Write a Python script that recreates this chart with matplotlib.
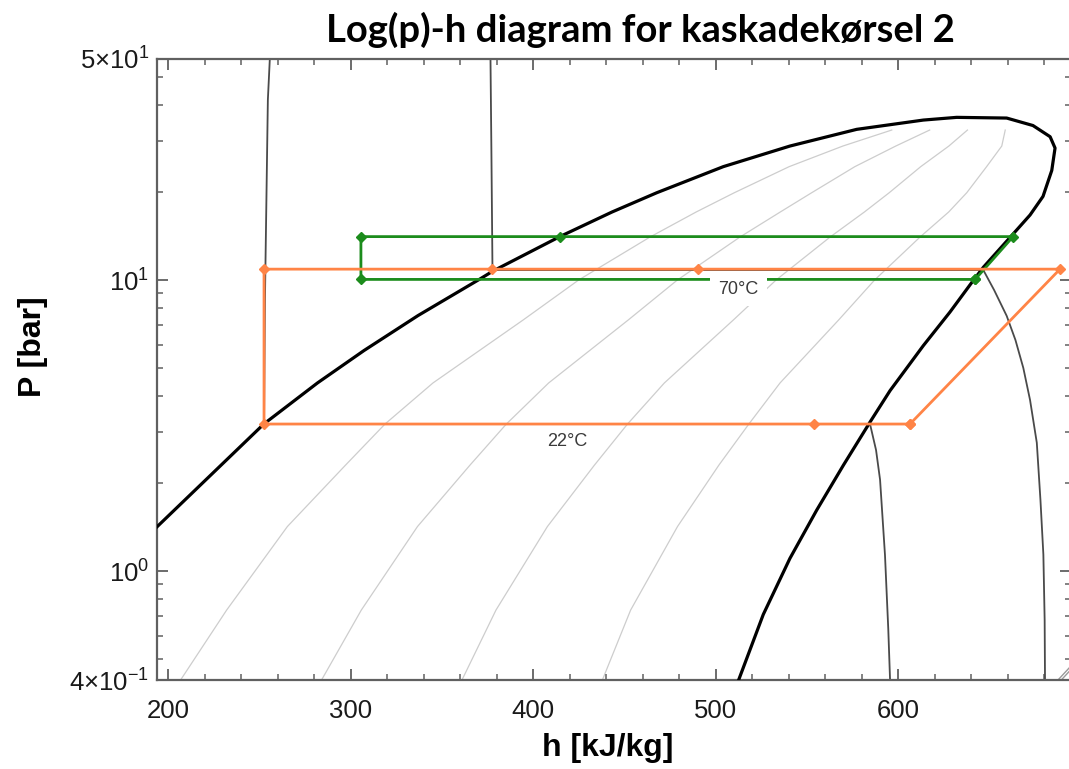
import matplotlib
matplotlib.use("Agg")
import matplotlib.pyplot as plt
from matplotlib.ticker import FixedLocator, FixedFormatter, NullFormatter

# --- data (h in kJ/kg, p in bar) ----------------------------------------
# saturation dome: liquid line -> critical region -> vapour line
dome_h = [190.0, 194.0, 252.4, 281.8, 307.3, 336.9, 370.8, 378.0, 414.7, 443.2,
          467.7, 504.2, 540.7, 577.3, 613.8, 632.1, 659.5, 673.9, 683.3, 686.0,
          684.2, 679.4, 672.3, 661.3, 646.7, 641.2, 628.4, 613.8, 595.6, 584.6,
          570.0, 555.4, 540.7, 526.1, 512.4, 510.0]
dome_p = [1.344, 1.422, 3.201, 4.43, 5.725, 7.55, 10.08, 10.74, 14.11, 17.13,
          19.95, 24.53, 28.87, 32.95, 35.46, 36.23, 36.03, 33.96, 31.08, 28.42,
          23.80, 19.38, 16.73, 14.00, 11.06, 9.97, 7.76, 5.95, 4.17, 3.25,
          2.31, 1.62, 1.105, 0.709, 0.419, 0.39]

# constant quality lines (thin grey), shared pressure levels
q_p = [0.4188, 0.734, 1.422, 2.313, 3.20, 4.43, 7.29, 10.0, 14.05, 17.13,
       19.95, 24.53, 28.87, 32.77]
q02_h = [206.4, 232.0, 265.3, 297.2, 318.8, 345.1, 394.5, 424.9, 464.0, 489.3,
         510.2, 540.3, 569.7, 596.5]
q04_h = [283.7, 305.8, 336.6, 365.4, 385.3, 408.5, 452.1, 479.0, 513.3, 535.4,
         552.6, 576.3, 598.7, 617.3]
q06_h = [360.7, 379.6, 407.8, 433.6, 451.7, 471.9, 509.7, 533.1, 562.7, 581.5,
         595.1, 612.4, 627.8, 638.0]
q08_h = [437.7, 453.4, 479.1, 501.8, 518.2, 535.3, 567.4, 587.1, 612.0, 627.7,
         637.6, 648.5, 656.8, 658.7]

# isotherms
t22_h = [255.7, 254.6, 253.8, 253.0, 252.5, 584.6, 587.9, 590.1, 592.8, 594.6,
         595.6, 595.9]
t22_p = [58.0, 41.6, 18.8, 8.54, 3.2, 3.2, 2.605, 2.06, 1.135, 0.632, 0.419, 0.36]
t70_h = [376.6, 377.1, 377.7, 646.7, 652.6, 659.5, 664.3, 668.6, 672.3, 676.0,
         678.0, 679.6, 680.3, 680.5, 680.7]
t70_p = [58.0, 27.97, 10.82, 10.82, 9.24, 7.53, 6.22, 4.99, 3.87, 2.76,
         1.754, 1.139, 0.679, 0.419, 0.36]
edge_h = [687.6, 694.5]
edge_p = [0.4221, 0.47]

# cycle 1 (orange)
cyc1_h = [606.5, 688.7, 490.3, 377.4, 252.5, 252.5, 553.9, 606.5]
cyc1_p = [3.2, 10.9, 10.9, 10.9, 10.9, 3.2, 3.2, 3.2]
# cycle 2 (green)
cyc2_h = [642.2, 663.0, 414.7, 305.6, 305.6, 642.2]
cyc2_p = [10.05, 14.1, 14.1, 14.1, 10.05, 10.05]

xticks = [200, 300, 400, 500, 600]
ylim = (0.4221, 57.5)
yticks = [ylim[0], 1, 10, ylim[1]]
ytick_labels = [r"$4{\times}10^{-1}$", r"$10^{0}$", r"$10^{1}$", r"$5{\times}10^{1}$"]

# ------------------------------------------------------------------------
plt.rcParams["font.family"] = ["Liberation Sans", "DejaVu Sans"]
plt.rcParams["mathtext.fontset"] = "custom"
plt.rcParams["mathtext.rm"] = "Liberation Sans"
plt.rcParams["mathtext.it"] = "Liberation Sans"

ORANGE = "#ff8446"
GREEN = "#1c8c1c"

fig = plt.figure(figsize=(10.69, 7.69), dpi=100)
ax = fig.add_axes([0.1473, 0.1157, 0.8545, 0.8076])
ax.set_yscale("log")
ax.set_xlim(194.1, 694.7)
ax.set_ylim(*ylim)

for qh in (q02_h, q04_h, q06_h, q08_h):
    ax.plot(qh, q_p, color="#cdcdcd", lw=0.9, zorder=1)

ax.plot(t22_h, t22_p, color="#4a4a4a", lw=1.3, zorder=2)
ax.plot(t70_h, t70_p, color="#4a4a4a", lw=1.3, zorder=2)
ax.plot(edge_h, edge_p, color="#9a9a9a", lw=1.0, zorder=2)
ax.plot([h + 1.8 for h in edge_h], edge_p, color="#9a9a9a", lw=1.0, zorder=2)

ax.plot(dome_h, dome_p, color="black", lw=2.3, zorder=3)

ax.plot(cyc2_h, cyc2_p, color=GREEN, lw=2.0, marker="D", ms=5.5, zorder=4)

ax.text(512.4, 9.26, "70\u00b0C", fontsize=13, color="#3a3a3a", ha="center",
        va="center", zorder=5,
        bbox=dict(boxstyle="square,pad=0.45", fc="white", ec="none"))
ax.text(418.7, 2.789, "22\u00b0C", fontsize=13, color="#3a3a3a", ha="center",
        va="center", zorder=5,
        bbox=dict(boxstyle="square,pad=0.2", fc="white", ec="none"))

ax.plot(cyc1_h, cyc1_p, color=ORANGE, lw=2.0, marker="D", ms=5.5, zorder=6)

# axes styling
for s in ax.spines.values():
    s.set_color("#606060")
    s.set_linewidth(1.6)
ax.xaxis.set_major_locator(FixedLocator(xticks))
ax.xaxis.set_minor_locator(FixedLocator(list(range(200, 700, 20))))
ax.yaxis.set_major_locator(FixedLocator(yticks))
ax.yaxis.set_major_formatter(FixedFormatter(ytick_labels))
ax.yaxis.set_minor_locator(FixedLocator([0.5, 0.6, 0.7, 0.8, 0.9, 2, 3, 4, 5, 6,
                                         7, 8, 9, 20, 30, 40, 50]))
ax.yaxis.set_minor_formatter(NullFormatter())
ax.tick_params(which="both", direction="in", top=True, right=True,
               colors="#606060", labelcolor="#1a1a1a", labelsize=18.5)
ax.tick_params(which="major", length=8, width=1.3)
ax.tick_params(which="minor", length=4, width=1.1)
ax.tick_params(axis="x", pad=14)
ax.tick_params(axis="y", pad=6)

fig.text(608 / 1069, 1 - 748 / 769, "h [kJ/kg]", fontsize=23, fontweight="bold",
         ha="center", va="center")
fig.text(33 / 1069, 1 - 347 / 769, "P [bar]", fontsize=23, fontweight="bold",
         ha="center", va="center", rotation=90)
fig.text(640 / 1069, 1 - 30 / 769, "Log(p)-h diagram for kaskadek\u00f8rsel 2",
         fontsize=27.5, fontweight="bold", family=["Lato", "DejaVu Sans"],
         ha="center", va="center")

fig.savefig("out.png", dpi=100)
